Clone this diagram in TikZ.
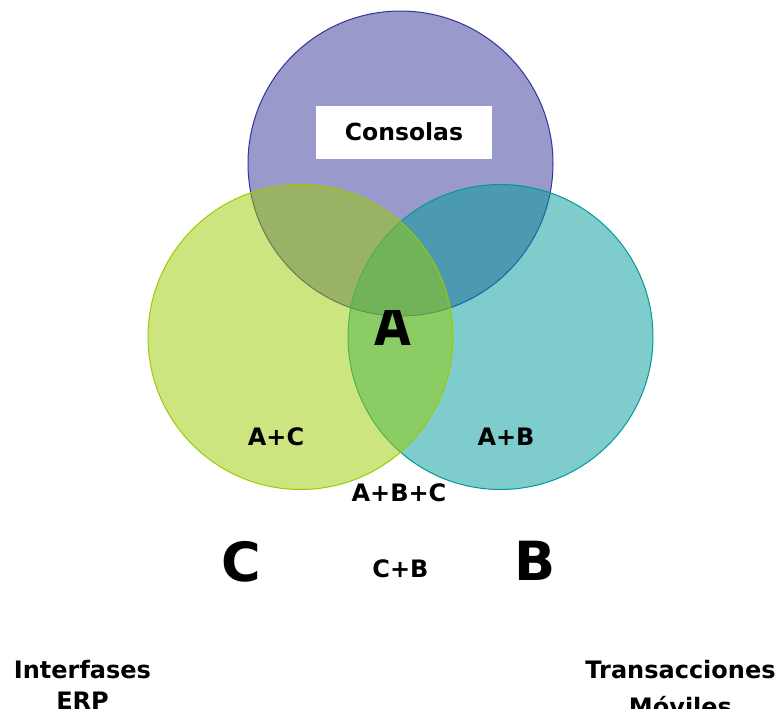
\documentclass[tikz,border=0pt]{standalone}
\usepackage{fontspec}
\setmainfont{DejaVu Sans}
\begin{document}
\begin{tikzpicture}[x=1pt,y=-1pt,
  set/.style={line width=1pt, fill opacity=0.5, draw opacity=1},
  lbl/.style={font=\fontsize{24}{28}\selectfont\bfseries, inner sep=0pt, anchor=base},
  big/.style={font=\fontsize{54}{60}\selectfont\bfseries, inner sep=0pt, anchor=base}]
\definecolor{setA}{HTML}{333399}
\definecolor{setB}{HTML}{009999}
\definecolor{setC}{HTML}{99CC00}
\useasboundingbox (0,0) rectangle (780,715);
\clip (0,0) rectangle (780,715);

% the three sets, drawn top, right, left
\path[set, fill=setA, draw=setA] (400.5,163.5) circle[radius=152.5];
\path[set, fill=setB, draw=setB] (500.5,337) circle[radius=152.5];
\path[set, fill=setC, draw=setC] (300.5,337) circle[radius=152.5];

% title box of the top set
\node[fill=white, minimum width=176pt, minimum height=53pt, inner sep=0pt] (boxA) at (404,132) {};
\node[font=\fontsize{23.5}{28}\selectfont\bfseries, inner sep=0pt, anchor=base] (tA) at (404,140) {Consolas};

% large set letters; the A is cut flat at its top
\begin{scope}
  \clip (300,310.3) rectangle (500,400);
  \node[font=\fontsize{58}{64}\selectfont\bfseries, inner sep=0pt, anchor=base, xscale=0.82] (lA) at (393,345) {A};
\end{scope}
\node[big] (lC) at (241,581) {C};
\node[big] (lB) at (535.5,580) {B};

% intersection labels
\node[lbl] (ac) at (276,445) {A+C};
\node[lbl] (ab) at (506,445) {A+B};
\node[lbl] (abc) at (399,501) {A+B+C};
\node[lbl] (cb) at (400.5,577) {C+B};

% set names
\node[lbl] (nC1) at (82.5,678) {Interfases};
\node[lbl] (nC2) at (82.5,709.5) {ERP};
\node[lbl] (nB1) at (680.5,678) {Transacciones};
\begin{scope}
  \clip (560,690) rectangle (780,708.5);
  \node[lbl] (nB2) at (680.5,715) {Móviles};
\end{scope}
\end{tikzpicture}
\end{document}
